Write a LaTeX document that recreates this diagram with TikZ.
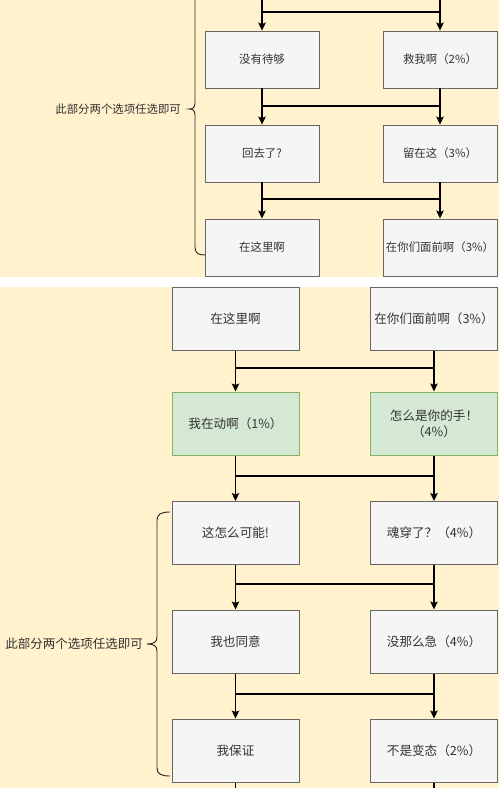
\documentclass[tikz,border=0pt]{standalone}
\usepackage{fontspec}
\newfontfamily\cjk{Noto Sans CJK SC}
\usetikzlibrary{arrows.meta}
\definecolor{cream}{HTML}{FFF2CC}
\definecolor{boxfill}{HTML}{F5F5F5}
\definecolor{boxline}{HTML}{666666}
\definecolor{gfill}{HTML}{D5E8D4}
\definecolor{gline}{HTML}{82B366}
\definecolor{txt}{HTML}{333333}
\tikzset{
  boxA/.style={draw=boxline, fill=boxfill, line width=0.9pt, minimum width=114pt, minimum height=57pt, inner sep=0pt, text=txt, font=\cjk\fontsize{11.4}{14}\selectfont, align=center},
  boxB/.style={draw=boxline, fill=boxfill, line width=1pt, minimum width=127pt, minimum height=63pt, inner sep=0pt, text=txt, font=\cjk\fontsize{12.6}{16}\selectfont, align=center},
  greenB/.style={boxB, draw=gline, fill=gfill},
  conn/.style={draw=black, line width=1.1pt},
  arr/.style={conn, -{Stealth[length=8pt,width=7.5pt,inset=1.5pt]}},
  brace/.style={draw=black!85, line width=0.9pt},
  lblA/.style={text=txt, font=\cjk\fontsize{11.4}{14}\selectfont, inner sep=0pt},
  lblB/.style={text=txt, font=\cjk\fontsize{12.5}{16}\selectfont, inner sep=0pt},
}
\begin{document}
\begin{tikzpicture}[x=1pt,y=-1pt]
\useasboundingbox (0,0) rectangle (499,788);
\fill[white] (0,0) rectangle (499,788);
% ---------- top panel ----------
\begin{scope}
\clip (0,0) rectangle (499,277);
\fill[cream] (0,0) rectangle (499,277);
\node[boxA] (L1) at (262,59.5) {没有待够};
\node[boxA] (R1) at (440,59.5) {救我啊（2\%）};
\node[boxA] (L2) at (262,153.5) {回去了?};
\node[boxA] (R2) at (440,153.5) {留在这（3\%）};
\node[boxA] (L3) at (262,247.5) {在这里啊};
\node[boxA] (R3) at (440,247.5) {在你们面前啊（3\%）};
\coordinate (t0L) at (262,-2);
\coordinate (t0R) at (440,-2);
\coordinate (j0) at (0,12);
\coordinate (j1) at (0,106);
\coordinate (j2) at (0,199);
% row 0 -> row 1
\draw[arr] (t0L) -- (L1.north);
\draw[arr] (t0R) -- (R1.north);
\draw[conn] (t0L |- j0) -- (t0R |- j0);
% row 1 -> row 2
\draw[arr] (L1.south) -- (L2.north);
\draw[arr] (R1.south) -- (R2.north);
\draw[conn] (L1.south |- j1) -- (R1.south |- j1);
% row 2 -> row 3
\draw[arr] (L2.south) -- (L3.north);
\draw[arr] (R2.south) -- (R3.north);
\draw[conn] (L2.south |- j2) -- (R2.south |- j2);
% brace
\coordinate (bA1) at (205,255);
\coordinate (bAtip) at (189,109);
\draw[brace] (bA1) .. controls (198,255) and (195,253) .. (195,247)
  -- (195,115) .. controls (195,110.5) and (193,109) .. (bAtip)
  .. controls (193,109) and (195,107.5) .. (195,103) -- (195,-5);
\node[lblA, anchor=east] (tA) at (181,109) {此部分两个选项任选即可};
\end{scope}
% ---------- bottom panel ----------
\begin{scope}
\clip (0,287) rectangle (499,788);
\fill[cream] (0,287) rectangle (499,788);
\node[boxB] (A1) at (235.5,319) {在这里啊};
\node[boxB] (A2) at (434,319) {在你们面前啊（3\%）};
\node[greenB] (B1) at (235.5,423.5) {我在动啊（1\%）};
\node[greenB] (B2) at (434,423.5) {怎么是你的手！\\（4\%）};
\node[boxB] (C1) at (235.5,533) {这怎么可能!};
\node[boxB] (C2) at (434,533) {魂穿了？（4\%）};
\node[boxB] (D1) at (235.5,641.5) {我也同意};
\node[boxB] (D2) at (434,641.5) {没那么急（4\%）};
\node[boxB] (E1) at (235.5,750.5) {我保证};
\node[boxB] (E2) at (434,750.5) {不是变态（2\%）};
\coordinate (k1) at (0,368);
\coordinate (k2) at (0,476);
\coordinate (k3) at (0,584);
\coordinate (k4) at (0,694);
\coordinate (k5) at (0,792);
\draw[arr] (A1.south) -- (B1.north);
\draw[arr] (A2.south) -- (B2.north);
\draw[conn] (A1.south |- k1) -- (A2.south |- k1);
\draw[arr] (B1.south) -- (C1.north);
\draw[arr] (B2.south) -- (C2.north);
\draw[conn] (B1.south |- k2) -- (B2.south |- k2);
\draw[arr] (C1.south) -- (D1.north);
\draw[arr] (C2.south) -- (D2.north);
\draw[conn] (C1.south |- k3) -- (C2.south |- k3);
\draw[arr] (D1.south) -- (E1.north);
\draw[arr] (D2.south) -- (E2.north);
\draw[conn] (D1.south |- k4) -- (D2.south |- k4);
\draw[conn] (E1.south) -- (E1.south |- k5);
\draw[conn] (E2.south) -- (E2.south |- k5);
% brace
\coordinate (bB1) at (170,512);
\coordinate (bB2) at (170,776);
\coordinate (bBtip) at (147,644);
\draw[brace] (bB1) .. controls (161,512) and (157,514) .. (157,521)
  -- (157,637) .. controls (157,642) and (154,644) .. (bBtip)
  .. controls (154,644) and (157,646) .. (157,651)
  -- (157,768) .. controls (157,774) and (161,776) .. (bB2);
\node[lblB, anchor=east] (tB) at (143,644) {此部分两个选项任选即可};
\end{scope}
\end{tikzpicture}
\end{document}
